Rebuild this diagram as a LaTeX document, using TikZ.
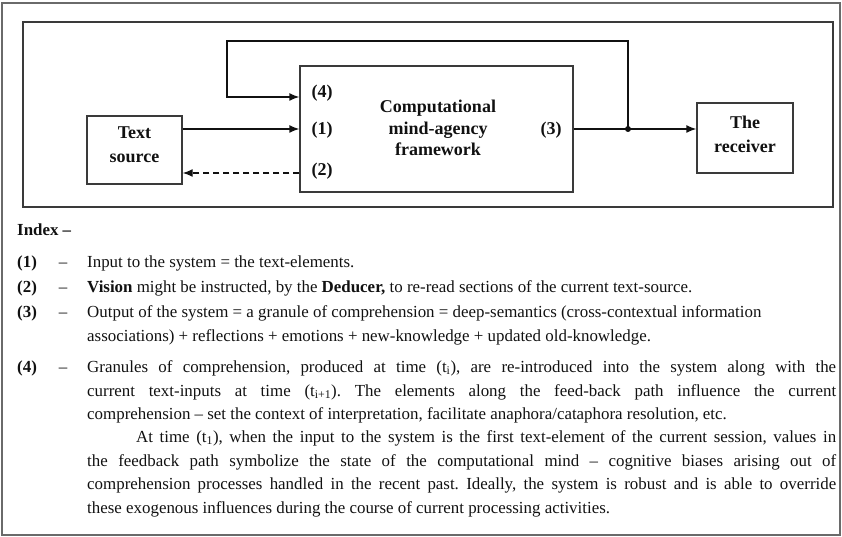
\documentclass[tikz,border=0pt]{standalone}
\usepackage{fontspec}
\setmainfont{Liberation Serif}
\usetikzlibrary{arrows.meta}
\definecolor{framecol}{HTML}{6A6A6A}
\definecolor{boxcol}{HTML}{3A3A3A}
\definecolor{inkcol}{HTML}{111111}
\tikzset{
  blockbox/.style={draw=boxcol, line width=1.4pt, inner sep=0pt},
  boxtext/.style={font=\fontsize{18}{24}\selectfont\bfseries, text=inkcol, align=center, inner sep=0pt},
  maintext/.style={font=\fontsize{18}{21.5}\selectfont\bfseries, text=inkcol, align=center, inner sep=0pt},
  portlabel/.style={font=\fontsize{18}{20}\selectfont\bfseries, text=inkcol, inner sep=0pt},
  arr/.style={draw=inkcol, line width=1.4pt, -{Latex[length=10pt,width=8pt]}},
  wire/.style={draw=inkcol, line width=1.4pt},
  bodyline/.style={font=\fontsize{16.9}{23.4}\selectfont\frenchspacing, text=inkcol, inner sep=0pt, anchor=base west},
  numlabel/.style={font=\fontsize{16.9}{23.4}\selectfont\bfseries, text=inkcol, inner sep=0pt, anchor=base west},
  dashlabel/.style={font=\fontsize{16.9}{23.4}\selectfont, text=inkcol, inner sep=0pt, anchor=base}
}
\newcommand{\jline}[1]{\makebox[749pt][s]{#1}}
\begin{document}
\begin{tikzpicture}[x=1pt,y=-1pt]
\useasboundingbox (0,0) rectangle (842,537);
% outer frame and inner box
\draw[framecol, line width=1.6pt] (2,3) rectangle (840,535);
\draw[boxcol, line width=1.6pt] (23,22) rectangle (833,207);
% blocks
\node[blockbox, minimum width=95pt, minimum height=68pt] (tsrc) at (134.5,150) {};
\node[blockbox, minimum width=273pt, minimum height=126pt] (main) at (436.5,129) {};
\node[blockbox, minimum width=96pt, minimum height=70pt] (recv) at (745,138) {};
\node[boxtext] (tsrctxt) at (134.5,145) {Text\\source};
\node[maintext] (maintxt) at (438,128) {Computational\\mind-agency\\framework};
\node[boxtext] (recvtxt) at (745,134) {The\\receiver};
% port labels
\node[portlabel] (l4) at (322,93) {(4)};
\node[portlabel] (l1) at (322,130) {(1)};
\node[portlabel] (l2) at (322,171) {(2)};
\node[portlabel] (l3) at (551,130) {(3)};
% connector points
\coordinate (p4) at (main.west |- 0,97);
\coordinate (p2) at (main.west |- 0,173);
\coordinate (j) at (628,129);
\coordinate (loopL) at (227,41);
% connectors
\draw[arr] (tsrc.east |- main.west) -- (main.west);
\draw[arr, dashed, dash pattern=on 6pt off 4pt] (p2) -- (tsrc.east |- p2);
\draw[wire] (main.east) -- (j);
\draw[arr] (j) -- (recv.west |- j);
\fill[inkcol] (j) circle (3pt);
\draw[arr] (j) |- (loopL) |- (p4);
% index text
\node[numlabel] (idx) at (17,236) {Index –};
\node[numlabel] (n1) at (17,267) {(1)};
\node[dashlabel] (d1) at (63,267) {–};
\node[bodyline] (t1) at (87,267) {Input to the system = the text-elements.};
\node[numlabel] (n2) at (17,292) {(2)};
\node[dashlabel] (d2) at (63,292) {–};
\node[bodyline] (t2) at (87,292) {\textbf{Vision} might be instructed, by the \textbf{Deducer,} to re-read sections of the current text-source.};
\node[numlabel] (n3) at (17,317) {(3)};
\node[dashlabel] (d3) at (63,317) {–};
\node[bodyline] (t3a) at (87,317) {Output of the system = a granule of comprehension = deep-semantics (cross-contextual information};
\node[bodyline] (t3b) at (87,341) {associations) + reflections + emotions + new-knowledge + updated old-knowledge.};
\node[numlabel] (n4) at (17,372) {(4)};
\node[dashlabel] (d4) at (63,372) {–};
\node[bodyline] (t4a) at (87,372) {\jline{Granules of comprehension, produced at time (t\textsubscript{i}), are re-introduced into the system along with the}};
\node[bodyline] (t4b) at (87,396) {\jline{current text-inputs at time (t\textsubscript{i+1}). The elements along the feed-back path influence the current}};
\node[bodyline] (t4c) at (87,419) {comprehension – set the context of interpretation, facilitate anaphora/cataphora resolution, etc.};
\node[bodyline] (t5a) at (136,442) {\makebox[700pt][s]{At time (t\textsubscript{1}), when the input to the system is the first text-element of the current session, values in}};
\node[bodyline] (t5b) at (87,466) {\jline{the feedback path symbolize the state of the computational mind – cognitive biases arising out of}};
\node[bodyline] (t5c) at (87,489) {\jline{comprehension processes handled in the recent past. Ideally, the system is robust and is able to override}};
\node[bodyline] (t5d) at (87,513) {these exogenous influences during the course of current processing activities.};
\end{tikzpicture}
\end{document}
